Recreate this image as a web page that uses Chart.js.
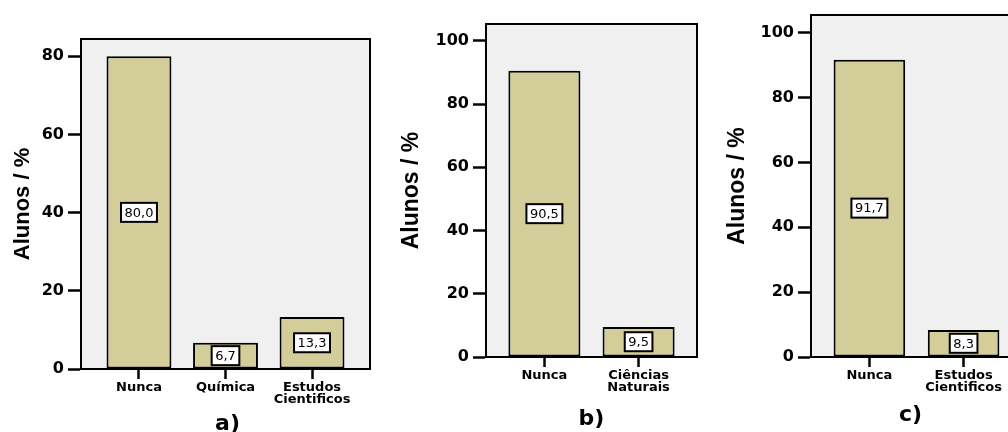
<!DOCTYPE html>
<html>
<head>
<meta charset="utf-8">
<script src="https://cdn.jsdelivr.net/npm/chart.js@4"></script>
<style>
  html, body { margin: 0; padding: 0; background: #fff; overflow: hidden; }
  #wrap { position: relative; width: 1008px; height: 432px; overflow: hidden; }
  #wrap canvas { position: absolute; left: 0; top: 0; }
</style>
</head>
<body>
<div id="wrap">
  <canvas id="chartA" width="1040" height="432"></canvas>
  <canvas id="chartB" width="1040" height="432"></canvas>
  <canvas id="chartC" width="1040" height="432"></canvas>
</div>
<script>
// ===============================
// Dados
// ===============================
const labelsA = ["Nunca", "Química", ["Estudos", "Cientificos"]];
const valuesA = [80.0, 6.7, 13.3];

const labelsB = ["Nunca", ["Ciências", "Naturais"]];
const valuesB = [90.5, 9.5];

const labelsC = ["Nunca", ["Estudos", "Cientificos"]];
const valuesC = [91.7, 8.3];

const yTicksA = [0, 20, 40, 60, 80];
const yTicksB = [0, 20, 40, 60, 80, 100];
const yTicksC = [0, 20, 40, 60, 80, 100];

const BAR_COLOR = "#D3CE99";
const PLOT_BG = "#F0F0F0";

// fundo cinza + moldura preta da área do gráfico
const plotFrame = {
  id: "plotFrame",
  beforeDraw(chart) {
    const { ctx, chartArea: a } = chart;
    ctx.save();
    ctx.fillStyle = PLOT_BG;
    ctx.fillRect(a.left, a.top, a.right - a.left, a.bottom - a.top);
    ctx.restore();
  },
  afterDraw(chart) {
    const { ctx, chartArea: a } = chart;
    ctx.save();
    ctx.strokeStyle = "#000";
    ctx.lineWidth = 2;
    ctx.strokeRect(a.left, a.top, a.right - a.left, a.bottom - a.top);
    // legenda a) b) c)
    const cap = chart.options.plugins.plotFrame;
    ctx.fillStyle = "#000";
    ctx.font = "bold 22px 'DejaVu Sans'";
    ctx.textAlign = "center";
    ctx.textBaseline = "middle";
    ctx.fillText(cap.caption, (a.left + a.right) / 2 + (cap.capDx || 0), cap.capY);
    ctx.restore();
  }
};

// caixinhas com os valores no meio das barras
const valueBoxes = {
  id: "valueBoxes",
  afterDatasetsDraw(chart) {
    const { ctx } = chart;
    const meta = chart.getDatasetMeta(0);
    const data = chart.data.datasets[0].data;
    ctx.save();
    ctx.font = "13px 'DejaVu Sans'";
    ctx.textAlign = "center";
    ctx.textBaseline = "middle";
    meta.data.forEach((bar, i) => {
      const txt = data[i].y.toFixed(1).replace(".", ",");
      const yMid = (bar.y + bar.base) / 2;
      const w = ctx.measureText(txt).width + 7;
      const h = 19;
      ctx.fillStyle = "#fff";
      ctx.fillRect(bar.x - w / 2, yMid - h / 2, w, h);
      ctx.strokeStyle = "#000";
      ctx.lineWidth = 2;
      ctx.strokeRect(bar.x - w / 2, yMid - h / 2, w, h);
      ctx.fillStyle = "#000";
      ctx.fillText(txt, bar.x, yMid + 1);
    });
    ctx.restore();
  }
};

function makeChart(canvasId, labels, values, yTicks, opt) {
  const ctx = document.getElementById(canvasId);
  const canvasW = 1040, canvasH = 432;
  const titleFont = opt.titleSize;
  const padLeft = opt.titleX - titleFont * 1.2 / 2;

  return new Chart(ctx, {
    type: "bar",
    data: {
      datasets: [{
        data: values.map((v, i) => ({ x: i, y: v })),
        backgroundColor: BAR_COLOR,
        borderColor: "#000",
        borderWidth: 2,
        borderSkipped: false,
        categoryPercentage: 1,
        barPercentage: opt.barPct
      }]
    },
    options: {
      responsive: false,
      animation: false,
      layout: {
        padding: { left: padLeft, top: opt.box.top, right: canvasW - opt.box.right, bottom: 0 }
      },
      plugins: {
        legend: { display: false },
        tooltip: { enabled: false },
        plotFrame: { caption: opt.caption, capY: opt.capY, capDx: opt.capDx }
      },
      scales: {
        x: {
          type: "linear",
          offset: false,
          min: -opt.sidePad,
          max: labels.length - 1 + opt.sidePad,
          afterBuildTicks: (s) => { s.ticks = labels.map((_, i) => ({ value: i })); },
          afterFit: (s) => { s.height = canvasH - opt.box.bottom; },
          grid: {
            offset: false,
            drawOnChartArea: false,
            drawTicks: true,
            tickLength: 10,
            tickWidth: 2.5,
            tickColor: "#000"
          },
          border: { display: true, color: "#000", width: 2 },
          ticks: {
            autoSkip: false,
            maxRotation: 0,
            padding: 3,
            color: "#000",
            font: { family: "'DejaVu Sans'", weight: "bold", size: 13, lineHeight: 0.9 },
            callback: (v) => labels[v]
          }
        },
        y: {
          min: 0,
          max: opt.yMax,
          afterBuildTicks: (s) => { s.ticks = yTicks.map((v) => ({ value: v })); },
          afterFit: (s) => { s.width = opt.box.left - padLeft; },
          grid: {
            drawOnChartArea: false,
            drawTicks: true,
            tickLength: 13,
            tickWidth: 2.5,
            tickColor: "#000"
          },
          border: { display: true, color: "#000", width: 2 },
          ticks: {
            padding: 4,
            color: "#000",
            font: { family: "'DejaVu Sans'", weight: "bold", size: 16 }
          },
          title: {
            display: true,
            text: "Alunos / %",
            color: "#000",
            padding: 0,
            font: { family: "'Liberation Sans'", weight: "bold", size: titleFont, lineHeight: 1.2 }
          }
        }
      }
    },
    plugins: [plotFrame, valueBoxes]
  });
}

makeChart("chartA", labelsA, valuesA, yTicksA, {
  box: { left: 81, top: 39, right: 370, bottom: 369 },
  yMax: 84.4, sidePad: 0.67, barPct: 0.75,
  titleX: 23, titleSize: 22, caption: "a)", capY: 424, capDx: 2
});

makeChart("chartB", labelsB, valuesB, yTicksB, {
  box: { left: 486, top: 24, right: 697, bottom: 357 },
  yMax: 105.3, sidePad: 0.62, barPct: 0.765,
  titleX: 412, titleSize: 23, caption: "b)", capY: 419, capDx: 0
});

makeChart("chartC", labelsC, valuesC, yTicksC, {
  box: { left: 811, top: 15, right: 1022, bottom: 357 },
  yMax: 105.5, sidePad: 0.62, barPct: 0.76,
  titleX: 738, titleSize: 23, caption: "c)", capY: 415, capDx: -6
});
</script>
</body>
</html>
